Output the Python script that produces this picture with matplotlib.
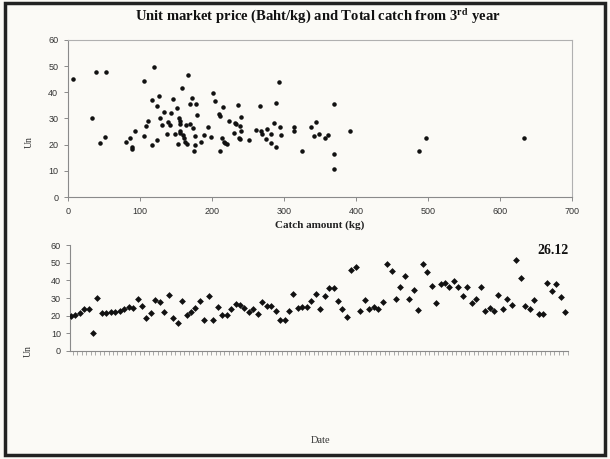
import matplotlib
matplotlib.use("Agg")
import matplotlib.pyplot as plt
from matplotlib.patches import Rectangle

# ---------------------------------------------------------
# DATA
# ---------------------------------------------------------

# top panel: catch amount (kg) vs unit price (Baht/kg)
catch_kg = [7, 38.5, 53, 34, 44, 51.5, 80, 86, 89, 89.5, 93, 105, 105, 109, 111,
            117, 116, 120, 123, 124, 126, 127.5, 131, 134, 137, 139.5, 141, 143,
            146.5, 148, 151, 152.5, 153.5, 155, 155, 155, 156, 159, 160, 161, 162,
            164, 165.5, 167, 169, 170, 172, 174, 175, 176, 176, 177.5, 179.5, 185,
            189, 195, 198, 202, 204, 210, 210.5, 210.5, 214, 215, 216, 217.5, 221,
            223, 230, 232, 234, 235.5, 239, 238, 240, 240, 238.5, 252, 261, 267,
            268.5, 270, 274.5, 277, 282, 282, 286.5, 288.5, 289, 293.5, 295, 296,
            314, 314, 325.5, 337, 341, 344, 349, 356.5, 361, 369.5, 369.5, 370,
            391, 487, 497, 634]
unit_price = [44.9, 47.9, 47.9, 30.1, 20.5, 22.9, 21.1, 22.4, 19.1, 18.2, 25.4,
              44.3, 23.5, 27.3, 29.2, 19.8, 37.1, 49.6, 21.9, 34.7, 38.5, 30.2,
              27.6, 32.4, 24.1, 28.6, 27.7, 32.0, 37.4, 24.1, 33.9, 20.1, 30.1,
              29.2, 25.2, 24.3, 28.0, 41.6, 23.6, 22.6, 21.1, 27.7, 20.3, 46.8,
              35.6, 28.0, 37.8, 26.3, 17.5, 23.4, 19.9, 35.6, 31.5, 21.2, 23.8,
              26.6, 23.1, 39.9, 36.6, 31.6, 31.1, 17.7, 22.5, 34.3, 21.2, 20.6,
              20.3, 29.2, 24.4, 28.1, 27.8, 35.3, 27.1, 22.6, 25.4, 30.7, 22.2,
              21.9, 25.7, 34.9, 25.4, 23.9, 22.1, 25.9, 20.7, 24.0, 28.2, 36.1,
              19.2, 44.0, 26.7, 23.8, 26.7, 25.2, 17.5, 26.6, 23.3, 28.6, 24.1,
              22.4, 23.6, 35.5, 16.3, 10.8, 25.2, 17.5, 22.7, 22.4]

# bottom panel: unit price by landing date (in order)
price_by_date = [19.9, 20.5, 21.4, 23.6, 23.6, 10.1, 30.2, 21.4, 21.6, 21.8, 22.1,
                 22.9, 23.8, 25.1, 24.4, 29.6, 25.5, 18.6, 21.4, 28.9, 27.6, 22.1,
                 31.9, 18.4, 15.8, 28.1, 20.6, 21.8, 24.4, 28.1, 17.3, 31.4, 17.6,
                 25.1, 20.3, 20.3, 23.8, 26.6, 26.3, 24.2, 21.8, 23.8, 21.0, 27.8,
                 25.5, 25.5, 22.9, 17.6, 17.3, 22.5, 32.3, 24.4, 25.1, 24.8, 28.5,
                 32.3, 23.6, 31.1, 35.6, 35.6, 28.1, 23.6, 19.5, 45.8, 47.7, 22.9,
                 28.9, 24.0, 24.8, 23.6, 27.8, 49.2, 45.4, 29.6, 36.0, 42.4, 29.3,
                 34.5, 23.3, 49.2, 44.7, 36.8, 27.4, 37.9, 38.6, 36.4, 39.8, 36.4,
                 31.1, 36.4, 27.4, 29.3, 36.4, 22.5, 24.4, 22.5, 31.5, 24.0, 29.6,
                 25.9, 51.4, 41.3, 25.5, 23.6, 28.9, 21.0, 21.0, 38.6, 33.8, 37.9,
                 30.8, 21.8]
date_index = list(range(1, len(price_by_date) + 1))

y_ticks = [0, 10, 20, 30, 40, 50, 60]
x_ticks_top = [0, 100, 200, 300, 400, 500, 600, 700]

# ---------------------------------------------------------
# FIGURE
# ---------------------------------------------------------

plt.rcParams['mathtext.fontset'] = 'stix'
bg = '#fbfaf6'
fig = plt.figure(figsize=(6.1, 4.59), dpi=100, facecolor=bg)

serif = ['Liberation Serif', 'DejaVu Serif']
sans = ['Liberation Sans', 'DejaVu Sans']
axis_col = '#8a8a8a'

# outer frame of the scanned page
fig.patches.append(Rectangle((0.008, 0.008), 0.984, 0.985, transform=fig.transFigure,
                             fill=False, edgecolor='#222222', linewidth=2.5))

# ---------------------------------------------------------
# TOP: SCATTER
# ---------------------------------------------------------

ax1 = fig.add_axes([0.1115, 0.5708, 0.8262, 0.3421], facecolor=bg)
ax1.scatter(catch_kg, unit_price, s=5, color='#111111', zorder=3)
ax1.set_xlim(0, 700)
ax1.set_ylim(0, 60)
ax1.set_xticks(x_ticks_top)
ax1.set_yticks(y_ticks)
for sp in ax1.spines.values():
    sp.set_color('#b0b0b0')
    sp.set_linewidth(0.8)
ax1.spines['left'].set_color(axis_col)
ax1.spines['bottom'].set_color(axis_col)
ax1.tick_params(direction='out', length=3, width=0.7, color=axis_col,
                labelsize=6.5, labelcolor='#333333', pad=4)
for lab in ax1.get_xticklabels() + ax1.get_yticklabels():
    lab.set_family(sans)

ax1.set_xlabel('Catch amount (kg)', family=serif, fontsize=8, fontweight='bold',
               color='#222222', labelpad=3)
ax1.set_ylabel('Un', family=serif, fontsize=7, color='#333333', labelpad=8)
ax1.yaxis.set_label_coords(-0.068, 0.35)

fig.text(0.522, 0.967,
         r'Unit market price (Baht/kg) and Total catch from 3$^{\mathbf{rd}}$ year',
         ha='center', va='center', family=serif, fontsize=10.5,
         fontweight='bold', color='#111111')

# ---------------------------------------------------------
# BOTTOM: PRICE BY DATE
# ---------------------------------------------------------

ax2 = fig.add_axes([0.1148, 0.2353, 0.8170, 0.2309], facecolor=bg)
ax2.scatter(date_index, price_by_date, s=12, marker='D', color='#111111',
            linewidths=0, zorder=3)
ax2.set_xlim(0.85, len(price_by_date) + 0.7)
ax2.set_ylim(0, 60)
ax2.set_yticks(y_ticks)
ax2.set_xticks([i + 0.5 for i in date_index])
ax2.set_xticklabels([])
ax2.spines['top'].set_visible(False)
ax2.spines['right'].set_visible(False)
ax2.spines['left'].set_color(axis_col)
ax2.spines['bottom'].set_color(axis_col)
ax2.tick_params(axis='y', direction='out', length=3, width=0.7, color=axis_col,
                labelsize=6.5, labelcolor='#333333')
ax2.tick_params(axis='x', direction='out', length=3, width=0.5, color=axis_col)
for lab in ax2.get_yticklabels():
    lab.set_family(sans)

ax2.set_ylabel('Un', family=serif, fontsize=7, color='#333333')
ax2.yaxis.set_label_coords(-0.075, 0.0)
ax2.text(1.0, 1.01, '26.12', transform=ax2.transAxes, ha='right', va='top',
         family=serif, fontsize=10, fontweight='bold', color='#111111')

fig.text(0.525, 0.04, 'Date', ha='center', va='center', family=serif,
         fontsize=7.5, color='#333333')

fig.savefig('out.png', dpi=100, facecolor=bg)
